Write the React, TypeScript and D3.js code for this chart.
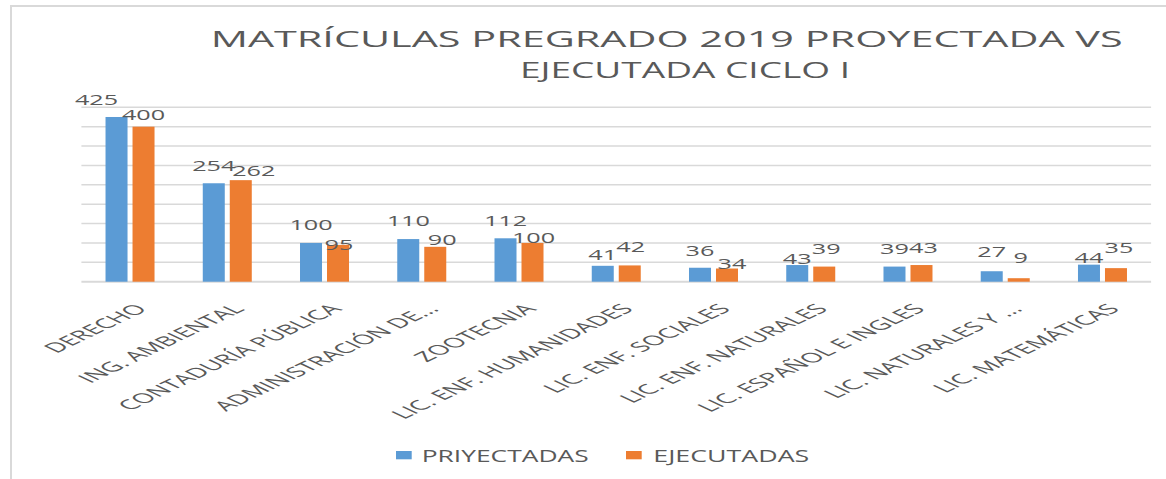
import React from "react";
import * as d3 from "d3";

const categories = [
  "DERECHO",
  "ING. AMBIENTAL",
  "CONTADURÍA PÚBLICA",
  "ADMINISTRACIÓN DE...",
  "ZOOTECNIA",
  "LIC. ENF. HUMANIDADES",
  "LIC. ENF. SOCIALES",
  "LIC. ENF. NATURALES",
  "LIC. ESPAÑOL E INGLES",
  "LIC. NATURALES Y ...",
  "LIC. MATEMÁTICAS",
];
const projected = [425, 254, 100, 110, 112, 41, 36, 43, 39, 27, 44];
const executed = [400, 262, 95, 90, 100, 42, 34, 39, 43, 9, 35];
const gridValues = [0, 50, 100, 150, 200, 250, 300, 350, 400, 450];
const seriesNames = ["PRIYECTADAS", "EJECUTADAS"];
const titleLines = ["MATRÍCULAS PREGRADO 2019 PROYECTADA VS", "EJECUTADA CICLO I"];

// label placement tweaks (layout only): horizontal nudge and gap above bar top
const projLabelDx = [-20, 0, 0, 0, 0, 0, 0, 0, 0, 0, 0];
const projLabelGap = [12, 12, 13, 13, 12, 6, 12, 1, 13, 14, 2];
const execLabelDx = [0, 13, 1, 7, 1, 1, 5, 2, 2, 2, 3];
const execLabelGap = [7, 4, -5, 2, 0, 13, 0, 13, 12, 15, 15];

const BLUE = "#5B9BD5";
const ORANGE = "#ED7D31";
const GRID = "#D9D9D9";
const TEXT = "#595959";
const FONT = "'Open Sans', 'Noto Sans', sans-serif";
const SX = 1.8;
const AX_SX = 2.1;

export default function App() {
  const W = 1166;
  const H = 479;
  const x = d3.scaleBand<string>().domain(categories).range([81.4, 1151.1]).padding(0);
  const y = d3.scaleLinear().domain([0, 450]).range([281.7, 107.3]);
  const bw = 22;
  const gap = 5;

  return (
    <svg
      width={W}
      height={H}
      style={{ position: "absolute", left: 0, top: 0, background: "#fff" }}
    >
      <rect x={0} y={0} width={W} height={H} fill="#fff" />
      <rect x={11} y={6} width={1300} height={600} fill="none" stroke={GRID} strokeWidth={2} />

      {/* title */}
      <text
        x={210.7}
        y={46.7}
        fontFamily={FONT}
        fontSize={22.4}
        fill={TEXT}
        textLength={912}
        lengthAdjust="spacingAndGlyphs"
      >
        {titleLines[0]}
      </text>
      <text
        x={520}
        y={78.3}
        fontFamily={FONT}
        fontSize={22.4}
        fill={TEXT}
        textLength={330}
        lengthAdjust="spacingAndGlyphs"
      >
        {titleLines[1]}
      </text>

      {/* gridlines */}
      {gridValues.map((v) => (
        <line
          key={v}
          x1={x.range()[0]}
          x2={x.range()[1]}
          y1={y(v)}
          y2={y(v)}
          stroke={GRID}
          strokeWidth={v === 0 ? 2 : 1.5}
        />
      ))}

      {/* bars */}
      {categories.map((c, i) => {
        const cx = (x(c) as number) + x.bandwidth() / 2;
        return (
          <g key={c}>
            <rect
              x={cx - gap / 2 - bw}
              y={y(projected[i])}
              width={bw}
              height={y(0) - y(projected[i])}
              fill={BLUE}
            />
            <rect
              x={cx + gap / 2}
              y={y(executed[i])}
              width={bw}
              height={y(0) - y(executed[i])}
              fill={ORANGE}
            />
          </g>
        );
      })}

      {/* data labels */}
      {categories.map((c, i) => {
        const cx = (x(c) as number) + x.bandwidth() / 2;
        const bx = cx - gap / 2 - bw / 2 + projLabelDx[i];
        const by = y(projected[i]) - projLabelGap[i];
        const ox = cx + gap / 2 + bw / 2 + execLabelDx[i];
        const oy = y(executed[i]) - execLabelGap[i];
        return (
          <g key={"l" + c} fontFamily={FONT} fontSize={14} fill={TEXT} textAnchor="middle">
            <text transform={`translate(${bx},${by}) scale(${SX},1)`}>{projected[i]}</text>
            <text transform={`translate(${ox},${oy}) scale(${SX},1)`}>{executed[i]}</text>
          </g>
        );
      })}

      {/* category labels */}
      {categories.map((c) => {
        const cx = (x(c) as number) + x.bandwidth() / 2;
        return (
          <text
            key={"c" + c}
            transform={`translate(${cx + 18.3},${309.8}) scale(${AX_SX},1) rotate(-45)`}
            textAnchor="end"
            fontFamily={FONT}
            fontSize={13.5}
            fill={TEXT}
          >
            {c}
          </text>
        );
      })}

      {/* legend */}
      <rect x={396} y={451} width={15.7} height={8.3} fill={BLUE} />
      <text
        x={421.7}
        y={461.7}
        fontFamily={FONT}
        fontSize={16.4}
        fill={TEXT}
        textLength={167}
        lengthAdjust="spacingAndGlyphs"
      >
        {seriesNames[0]}
      </text>
      <rect x={626} y={451} width={15.7} height={8.3} fill={ORANGE} />
      <text
        x={653.3}
        y={461.7}
        fontFamily={FONT}
        fontSize={16.4}
        fill={TEXT}
        textLength={156}
        lengthAdjust="spacingAndGlyphs"
      >
        {seriesNames[1]}
      </text>
    </svg>
  );
}
